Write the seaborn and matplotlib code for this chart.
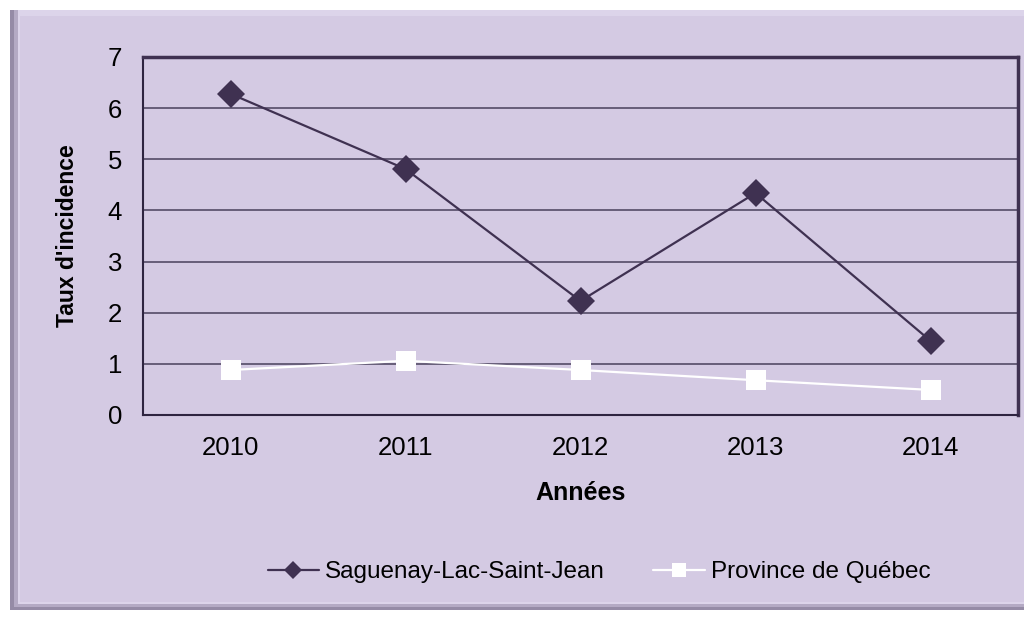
import numpy as np
import pandas as pd
import matplotlib
matplotlib.use("Agg")
import matplotlib.pyplot as plt
from matplotlib.patches import Rectangle
from matplotlib.lines import Line2D
import seaborn as sns

# Data
years = ["2010", "2011", "2012", "2013", "2014"]
saguenay = [6.28, 4.81, 2.23, 4.34, 1.45]
quebec = [0.88, 1.06, 0.88, 0.68, 0.49]
series_names = ["Saguenay-Lac-Saint-Jean", "Province de Québec"]

sns.set_theme(style="white")
plt.rcParams['font.family'] = ['Liberation Sans', 'DejaVu Sans']

bg = "#D4CAE3"
dark = "#3F3151"

df = pd.DataFrame({
    "pos": list(range(len(years))) * 2,
    "value": saguenay + quebec,
    "serie": [series_names[0]] * len(years) + [series_names[1]] * len(years),
})

fig = plt.figure(figsize=(10.24, 6.18), dpi=100)
fig.patch.set_facecolor("white")

# lavender frame with a little bevel
fig.patches.append(Rectangle((10 / 1024, 8 / 618), 1.0, 600 / 618, transform=fig.transFigure,
                             facecolor="#958BA6", edgecolor="none", zorder=-10))
fig.patches.append(Rectangle((14 / 1024, 11 / 618), 1.0, 597 / 618, transform=fig.transFigure,
                             facecolor="#B4AAC4", edgecolor="none", zorder=-9))
fig.patches.append(Rectangle((18 / 1024, 14 / 618), 1.0, 594 / 618, transform=fig.transFigure,
                             facecolor="#DCD4EA", edgecolor="none", zorder=-8))
fig.patches.append(Rectangle((20 / 1024, 16 / 618), 1.0, 586 / 618, transform=fig.transFigure,
                             facecolor=bg, edgecolor="none", zorder=-7))

ax = fig.add_axes([143 / 1024, 1 - 415 / 618, 875 / 1024, 358 / 618])
ax.set_facecolor(bg)

sns.lineplot(data=df, x="pos", y="value", hue="serie", style="serie",
             palette={series_names[0]: dark, series_names[1]: "white"},
             markers={series_names[0]: "D", series_names[1]: "s"},
             dashes=False, markersize=14, linewidth=1.6, markeredgewidth=0,
             legend=False, ax=ax, zorder=3)

ax.set_xlim(-0.5, len(years) - 0.5)
ax.set_ylim(0, 7)
ax.set_yticks(range(0, 8))
ax.set_xticks(range(len(years)))
ax.set_xticklabels(years)
ax.set_xticks(np.arange(-0.5, len(years)), minor=True)
ax.tick_params(axis="x", which="major", length=0, pad=15, labelsize=18.5, colors="black")
ax.tick_params(axis="x", which="minor", length=6, width=1, color="#2E2440", direction="out")
ax.tick_params(axis="y", length=0, pad=15, labelsize=18.5, colors="black")
ax.grid(axis="y", color="#5E5570", linewidth=1.3)
ax.grid(axis="x", visible=False)
for side in ["left", "bottom"]:
    ax.spines[side].set_color("#2E2440")
    ax.spines[side].set_linewidth(1.5)
for side in ["top", "right"]:
    ax.spines[side].set_color(dark)
    ax.spines[side].set_linewidth(2.5)

ax.set_xlabel("Années", fontsize=18, fontweight="bold", labelpad=15, color="black")
ax.set_ylabel("Taux d'incidence", fontsize=16.5, fontweight="bold", labelpad=21, color="black")

handles = [
    Line2D([], [], color=dark, marker="D", markersize=9, linewidth=1.6, markeredgewidth=0),
    Line2D([], [], color="white", marker="s", markersize=10, linewidth=1.6, markeredgewidth=0),
]
fig.legend(handles, series_names, loc="center", bbox_to_anchor=(0.585, 1 - 572 / 618),
           ncol=2, frameon=False, fontsize=17.5, handlelength=2.1, handletextpad=0.25,
           columnspacing=2.0, labelcolor="black")

fig.savefig("out.png", dpi=100, facecolor=fig.get_facecolor())
